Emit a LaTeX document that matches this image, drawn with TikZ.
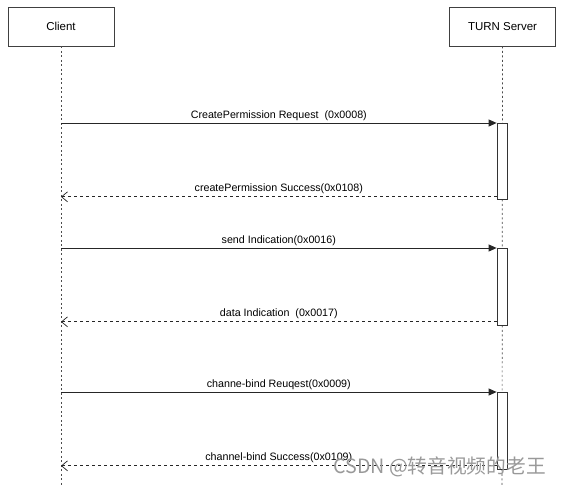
\documentclass[tikz,border=0pt]{standalone}
\usepackage{fontspec}
\setmainfont{Liberation Sans}
\newfontfamily\cjk{Noto Sans CJK SC}
\usetikzlibrary{arrows.meta,calc}
\begin{document}
\begin{tikzpicture}[x=1pt,y=-1pt,
 actor/.style={draw=black!75,line width=0.8pt,minimum width=106pt,minimum height=39pt,inner sep=0,font=\fontsize{11.5}{13}\selectfont},
 life/.style={draw=black!70,dash pattern=on 2pt off 2.5pt,line width=0.7pt},
 act/.style={draw=black!80,fill=white,minimum width=10pt,inner sep=0,line width=0.8pt},
 req/.style={draw=black!85,line width=0.8pt,-{Triangle[length=8pt,width=7pt]}},
 resp/.style={draw=black!85,line width=0.7pt,dash pattern=on 3pt off 3pt,-{Straight Barb[length=6pt,width=10pt]}},
 lbl/.style={font=\fontsize{10.7}{12}\selectfont,anchor=base,inner sep=0,yshift=5pt}]
\useasboundingbox[fill=white] (0,0) rectangle (561,485);
\node[actor] (client) at (61,26.5) {Client};
\node[actor] (server) at (502.5,26.5) {TURN Server};
\coordinate (cend) at (61,485);
\coordinate (send) at (502,485);
\draw[life] (client.south) -- (cend);
\draw[life] (server.south) -- (send);
\node[act,minimum height=76pt,anchor=north] (a1) at (502,123) {};
\node[act,minimum height=77pt,anchor=north] (a2) at (502,248) {};
\node[act,minimum height=77pt,anchor=north] (a3) at (502,392) {};
\coordinate (r1) at ([yshift=3pt]a1.south west);
\coordinate (r2) at ([yshift=4pt]a2.south west);
\coordinate (r3) at ([yshift=4pt]a3.south west);
\draw[req] (client |- a1.north) -- node[lbl] {CreatePermission Request\ \ (0x0008)} (a1.north west);
\draw[resp] (r1) -- node[lbl] {createPermission Success(0x0108)} (client |- r1);
\draw[req] (client |- a2.north) -- node[lbl] {send Indication(0x0016)} (a2.north west);
\draw[resp] (r2) -- node[lbl] {data Indication\ \ (0x0017)} (client |- r2);
\draw[req] (client |- a3.north) -- node[lbl] {channe-bind Reuqest(0x0009)} (a3.north west);
\draw[resp] (r3) -- node[lbl] {channel-bind Success(0x0109)} (client |- r3);
\node[font=\cjk\fontsize{19.7}{20}\selectfont,text=black!40,anchor=base west,inner sep=0] (wm) at (333,473) {CSDN @转音视频的老王};
\end{tikzpicture}
\end{document}
